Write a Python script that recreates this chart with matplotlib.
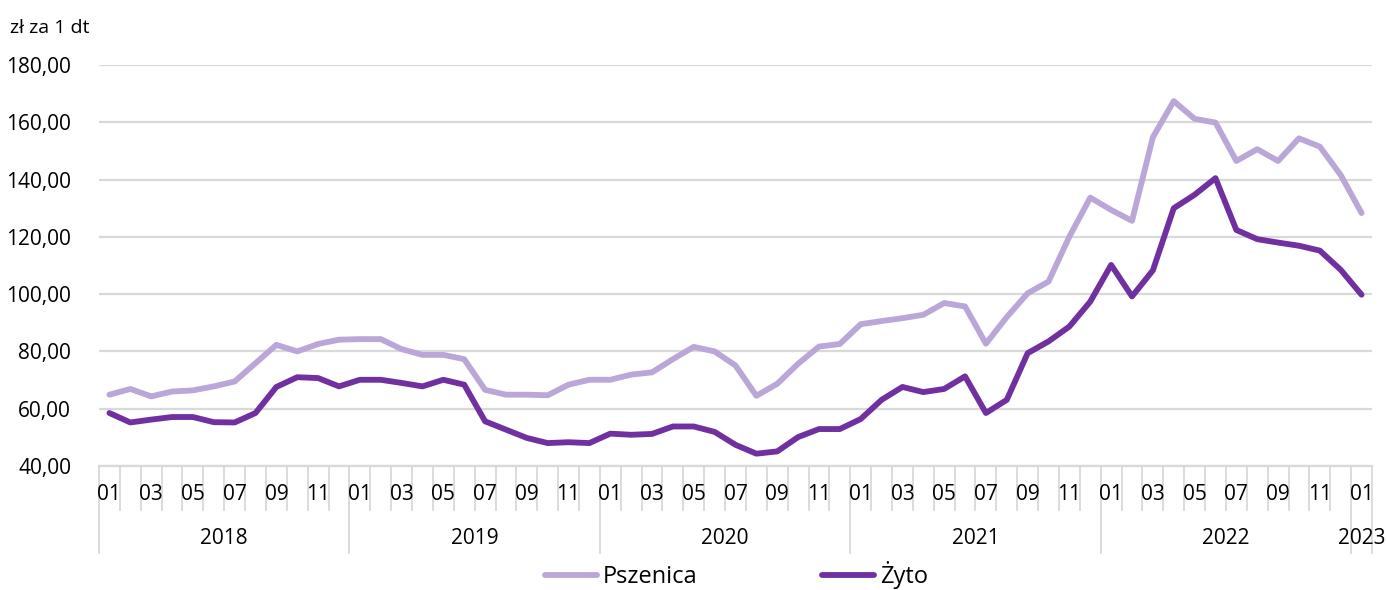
import numpy as np
import matplotlib
matplotlib.use("Agg")
import matplotlib.pyplot as plt
import matplotlib.transforms as mtransforms

plt.rcParams["font.family"] = ["Open Sans", "DejaVu Sans"]

years = ["2018", "2019", "2020", "2021", "2022", "2023"]
months = ["01", "02", "03", "04", "05", "06", "07", "08", "09", "10", "11", "12"]

# monthly prices, 2018-01 .. 2023-01 (zl per 1 dt)
pszenica = [64.9, 66.9, 64.3, 66.0, 66.4, 67.8, 69.5, 75.9, 82.3, 80.0, 82.6, 84.1,
            84.3, 84.3, 80.8, 78.8, 78.8, 77.3, 66.6, 64.9, 64.9, 64.7, 68.4, 70.1,
            70.1, 71.9, 72.7, 77.3, 81.6, 80.0, 75.1, 64.5, 68.7, 75.7, 81.7, 82.6,
            89.5, 90.6, 91.6, 92.8, 96.9, 95.7, 82.7, 92.0, 100.3, 104.4, 120.1, 133.7,
            129.4, 125.6, 154.8, 167.4, 161.2, 159.9, 146.5, 150.6, 146.5, 154.4, 151.5, 141.6,
            128.3]
zyto = [58.5, 55.2, 56.2, 57.1, 57.1, 55.3, 55.2, 58.5, 67.6, 71.0, 70.7, 67.8,
        70.1, 70.1, 69.0, 67.8, 70.1, 68.4, 55.6, 52.7, 49.8, 48.0, 48.3, 48.0,
        51.3, 50.9, 51.2, 53.8, 53.8, 51.9, 47.4, 44.3, 45.1, 50.1, 52.9, 52.9,
        56.4, 63.1, 67.6, 65.8, 66.9, 71.3, 58.5, 63.1, 79.4, 83.5, 88.7, 97.4,
        110.2, 99.2, 108.3, 130.0, 134.7, 140.5, 122.4, 119.2, 118.0, 116.9, 115.2, 108.5,
        99.8]

n = len(pszenica)
x = np.arange(n)
month_labels = [months[i % 12] for i in range(n)]

light = "#BBA7D7"
dark = "#7030A0"
grid_c = "#D9D9D9"

fig = plt.figure(figsize=(13.87, 5.9), dpi=100)
ax = fig.add_axes([99 / 1387, 124 / 590, 1273 / 1387, 401 / 590])

ax.plot(x, pszenica, color=light, lw=4.2, label="Pszenica", solid_capstyle="round")
ax.plot(x, zyto, color=dark, lw=4.2, label="Żyto", solid_capstyle="round")

ax.set_ylim(40, 180)
ax.set_xlim(-0.5, n - 0.5)
ax.set_yticks(np.arange(40, 181, 20))
ax.set_yticklabels([f"{v:.2f}".replace(".", ",") for v in np.arange(40, 181, 20)], fontsize=15)
ax.tick_params(axis="y", length=0, pad=20)
ax.yaxis.grid(True, color=grid_c, lw=1.6)
ax.set_axisbelow(True)
for s in ["top", "right", "left"]:
    ax.spines[s].set_visible(False)
ax.spines["bottom"].set_color(grid_c)
ax.spines["bottom"].set_linewidth(1.6)

# category axis: odd months labelled, years underneath
ax.set_xticks([])
trans = mtransforms.blended_transform_factory(ax.transData, ax.transAxes)
for i in range(n):
    if i % 2 == 0:
        ax.text(i, -0.072, month_labels[i], transform=trans, ha="center", va="center",
                fontsize=15)
for b in range(n + 1):
    yr_edge = (b % 12 == 0) or b == n
    y_end = -0.217 if yr_edge else -0.11
    ax.plot([b - 0.5, b - 0.5], [0, y_end], transform=trans, color=grid_c, lw=1.3,
            clip_on=False)
for k, yr in enumerate(years):
    start = k * 12
    end = min(start + 12, n)
    ax.text((start + end - 1) / 2, -0.18, yr, transform=trans, ha="center", va="center",
            fontsize=15)

fig.text(10 / 1387, 1 - 28 / 590, "zł za 1 dt", fontsize=14, va="center", ha="left")

fig.legend(loc="center", bbox_to_anchor=(0.531, 1 - 575 / 590), ncol=2, frameon=False,
           fontsize=17, handlelength=2.2, handletextpad=0.25, columnspacing=5.3)

fig.savefig("out.png", dpi=100)
